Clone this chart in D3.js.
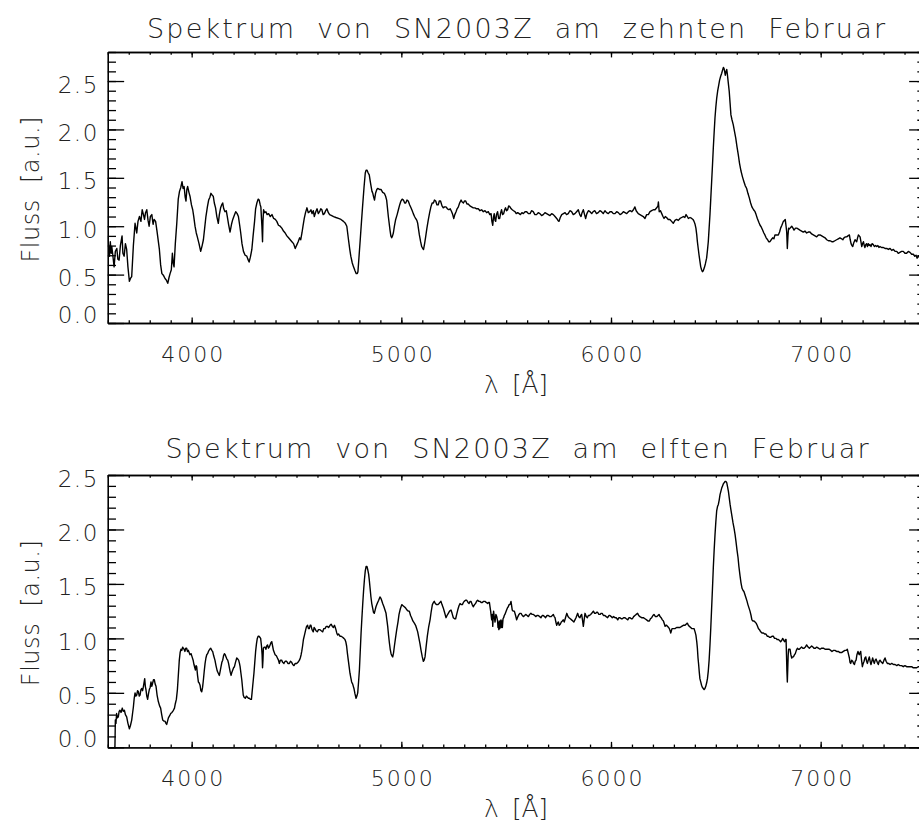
<!DOCTYPE html>
<html>
<head>
<meta charset="utf-8">
<script src="https://cdn.jsdelivr.net/npm/d3@7"></script>
<style>
  body { margin: 0; background: #fff; }
  svg { display: block; }
  text { font-family: "DejaVu Sans", sans-serif; font-weight: 200; fill: #222; }
</style>
</head>
<body>
<div id="chart"></div>
<script>
// spectrum SN2003Z, 10 Feb (wavelength in Angstrom, flux in a.u.)
const spec10 = [[3600,0.89],[3604,0.78],[3608,0.69],[3612,0.84],[3616,0.72],[3619,0.79],[3624,0.70],[3630,0.58],[3636,0.74],[3643,0.77],[3648,0.66],[3654,0.65],[3660,0.80],[3668,0.90],[3672,0.72],[3678,0.69],[3684,0.82],[3690,0.76],[3696,0.58],[3703,0.43],[3708,0.46],[3714,0.48],[3722,0.80],[3730,1.03],[3738,0.93],[3744,1.05],[3751,1.10],[3758,1.05],[3764,1.17],[3770,1.12],[3775,1.07],[3780,1.14],[3786,1.17],[3792,1.06],[3797,1.00],[3803,1.10],[3810,1.12],[3816,1.02],[3821,1.07],[3828,1.05],[3834,0.96],[3846,0.76],[3852,0.60],[3858,0.51],[3866,0.49],[3873,0.46],[3880,0.44],[3886,0.41],[3892,0.47],[3897,0.51],[3903,0.55],[3908,0.72],[3912,0.62],[3916,0.58],[3922,0.82],[3929,1.03],[3936,1.28],[3942,1.36],[3948,1.40],[3954,1.46],[3959,1.39],[3964,1.41],[3969,1.30],[3973,1.26],[3977,1.38],[3981,1.41],[3987,1.35],[3992,1.31],[3999,1.22],[4005,1.17],[4010,1.10],[4016,1.00],[4022,0.93],[4027,0.89],[4035,0.82],[4043,0.74],[4050,0.80],[4056,0.86],[4062,0.98],[4068,1.10],[4075,1.20],[4081,1.27],[4087,1.30],[4092,1.34],[4098,1.32],[4103,1.31],[4108,1.24],[4114,1.19],[4120,1.10],[4127,1.03],[4132,1.12],[4138,1.19],[4143,1.22],[4148,1.24],[4153,1.18],[4159,1.15],[4165,1.16],[4170,1.10],[4176,1.02],[4183,0.94],[4190,1.02],[4196,1.07],[4203,1.11],[4210,1.15],[4217,1.13],[4223,1.10],[4229,1.01],[4234,0.93],[4240,0.82],[4247,0.74],[4255,0.70],[4263,0.69],[4268,0.66],[4274,0.63],[4280,0.68],[4287,0.76],[4293,0.90],[4300,1.05],[4305,1.18],[4311,1.24],[4317,1.28],[4322,1.27],[4327,1.22],[4330,1.20],[4335,1.00],[4338,0.84],[4340,1.05],[4343,1.17],[4348,1.14],[4354,1.15],[4360,1.12],[4367,1.13],[4375,1.10],[4383,1.12],[4391,1.08],[4399,1.07],[4406,1.05],[4414,1.01],[4422,1.00],[4430,0.98],[4438,0.95],[4446,0.93],[4454,0.90],[4462,0.88],[4470,0.86],[4478,0.84],[4486,0.82],[4494,0.77],[4498,0.79],[4502,0.81],[4508,0.84],[4515,0.88],[4520,0.86],[4526,0.93],[4531,1.00],[4537,1.08],[4543,1.14],[4550,1.19],[4556,1.14],[4563,1.15],[4569,1.17],[4574,1.13],[4580,1.16],[4585,1.10],[4592,1.15],[4598,1.18],[4604,1.13],[4610,1.15],[4616,1.18],[4621,1.17],[4627,1.12],[4633,1.13],[4639,1.16],[4645,1.18],[4652,1.14],[4658,1.12],[4668,1.11],[4677,1.10],[4688,1.09],[4700,1.08],[4712,1.07],[4724,1.05],[4733,1.03],[4740,1.00],[4748,0.86],[4754,0.76],[4759,0.69],[4766,0.62],[4772,0.58],[4779,0.54],[4785,0.51],[4790,0.51],[4793,0.53],[4798,0.68],[4804,0.86],[4810,1.05],[4815,1.20],[4822,1.40],[4828,1.55],[4832,1.58],[4836,1.58],[4842,1.55],[4847,1.53],[4852,1.46],[4856,1.41],[4860,1.36],[4864,1.34],[4868,1.30],[4872,1.27],[4877,1.34],[4883,1.38],[4887,1.39],[4896,1.38],[4903,1.38],[4911,1.35],[4919,1.34],[4925,1.31],[4930,1.27],[4938,1.10],[4946,0.96],[4950,0.90],[4954,0.88],[4958,0.90],[4962,0.93],[4967,1.00],[4973,1.07],[4980,1.12],[4986,1.17],[4992,1.22],[4998,1.26],[5004,1.28],[5010,1.27],[5016,1.24],[5021,1.24],[5027,1.27],[5033,1.26],[5040,1.22],[5046,1.19],[5052,1.16],[5057,1.13],[5063,1.10],[5068,1.08],[5074,1.06],[5078,1.03],[5082,0.97],[5086,0.91],[5092,0.84],[5097,0.79],[5102,0.77],[5106,0.76],[5111,0.82],[5116,0.89],[5122,0.98],[5129,1.07],[5135,1.14],[5141,1.20],[5147,1.24],[5153,1.24],[5158,1.27],[5164,1.26],[5170,1.22],[5176,1.22],[5181,1.26],[5187,1.26],[5194,1.21],[5200,1.19],[5206,1.20],[5213,1.20],[5220,1.18],[5227,1.17],[5233,1.18],[5240,1.15],[5245,1.12],[5250,1.08],[5255,1.12],[5261,1.15],[5266,1.18],[5272,1.20],[5278,1.24],[5285,1.27],[5290,1.25],[5296,1.24],[5301,1.26],[5307,1.26],[5313,1.23],[5319,1.23],[5327,1.21],[5335,1.20],[5343,1.19],[5351,1.19],[5359,1.18],[5367,1.18],[5375,1.16],[5383,1.17],[5391,1.15],[5399,1.16],[5407,1.14],[5415,1.15],[5422,1.12],[5428,1.13],[5432,1.05],[5436,1.01],[5440,1.10],[5443,1.13],[5447,1.06],[5450,1.05],[5454,1.12],[5459,1.15],[5464,1.08],[5469,1.08],[5474,1.14],[5478,1.17],[5483,1.12],[5488,1.13],[5493,1.17],[5497,1.19],[5502,1.16],[5507,1.17],[5512,1.21],[5518,1.20],[5524,1.18],[5529,1.17],[5535,1.16],[5542,1.15],[5548,1.13],[5555,1.14],[5562,1.13],[5568,1.12],[5575,1.14],[5582,1.13],[5590,1.15],[5598,1.15],[5606,1.13],[5614,1.13],[5621,1.16],[5629,1.15],[5637,1.12],[5645,1.12],[5653,1.14],[5661,1.13],[5669,1.11],[5677,1.12],[5685,1.14],[5693,1.13],[5701,1.12],[5709,1.11],[5717,1.13],[5725,1.12],[5733,1.10],[5741,1.08],[5747,1.06],[5752,1.05],[5758,1.09],[5765,1.12],[5773,1.13],[5781,1.14],[5788,1.12],[5796,1.13],[5804,1.16],[5812,1.15],[5820,1.12],[5828,1.13],[5836,1.15],[5844,1.17],[5851,1.12],[5857,1.10],[5862,1.14],[5868,1.17],[5874,1.12],[5879,1.08],[5885,1.13],[5892,1.16],[5900,1.15],[5908,1.13],[5915,1.15],[5923,1.16],[5931,1.13],[5939,1.14],[5947,1.16],[5955,1.15],[5963,1.13],[5971,1.16],[5979,1.14],[5987,1.13],[5995,1.15],[6003,1.15],[6011,1.13],[6019,1.13],[6027,1.15],[6035,1.14],[6043,1.12],[6051,1.13],[6059,1.15],[6067,1.14],[6075,1.13],[6083,1.15],[6091,1.16],[6099,1.15],[6107,1.17],[6114,1.20],[6120,1.16],[6130,1.13],[6138,1.12],[6146,1.11],[6154,1.10],[6162,1.08],[6170,1.12],[6178,1.12],[6186,1.15],[6194,1.16],[6202,1.17],[6210,1.17],[6218,1.19],[6224,1.21],[6226,1.25],[6230,1.15],[6236,1.16],[6242,1.13],[6248,1.10],[6253,1.08],[6259,1.10],[6265,1.09],[6273,1.07],[6281,1.07],[6289,1.05],[6297,1.03],[6305,1.06],[6313,1.07],[6321,1.06],[6329,1.08],[6337,1.09],[6345,1.10],[6352,1.09],[6358,1.12],[6364,1.10],[6369,1.08],[6377,1.09],[6385,1.08],[6391,1.07],[6396,1.05],[6401,1.02],[6405,0.98],[6409,0.91],[6412,0.84],[6416,0.77],[6420,0.70],[6424,0.64],[6428,0.58],[6432,0.55],[6436,0.53],[6440,0.54],[6445,0.57],[6450,0.61],[6456,0.67],[6460,0.75],[6464,0.84],[6468,0.98],[6472,1.12],[6476,1.29],[6480,1.46],[6484,1.63],[6488,1.81],[6492,1.97],[6496,2.12],[6500,2.23],[6504,2.32],[6509,2.40],[6514,2.46],[6518,2.51],[6523,2.55],[6528,2.58],[6533,2.62],[6536,2.64],[6539,2.63],[6542,2.60],[6545,2.56],[6549,2.60],[6552,2.62],[6555,2.57],[6558,2.51],[6561,2.45],[6564,2.39],[6568,2.27],[6572,2.15],[6577,2.10],[6583,2.05],[6589,1.98],[6595,1.91],[6601,1.82],[6607,1.74],[6613,1.65],[6620,1.57],[6627,1.51],[6634,1.46],[6640,1.42],[6647,1.39],[6653,1.34],[6660,1.29],[6666,1.24],[6672,1.20],[6680,1.17],[6687,1.15],[6692,1.12],[6698,1.08],[6705,1.04],[6711,1.01],[6717,0.99],[6723,0.96],[6729,0.93],[6734,0.91],[6740,0.88],[6747,0.86],[6752,0.84],[6758,0.84],[6764,0.86],[6771,0.88],[6777,0.87],[6782,0.91],[6790,0.91],[6798,0.91],[6804,0.94],[6809,0.98],[6815,1.01],[6822,1.05],[6827,1.06],[6831,1.07],[6835,1.00],[6838,0.94],[6841,0.77],[6844,0.90],[6847,0.98],[6850,0.97],[6854,0.98],[6858,0.99],[6862,1.00],[6868,0.98],[6873,0.96],[6880,0.98],[6886,0.98],[6894,0.97],[6901,0.96],[6909,0.95],[6917,0.94],[6925,0.95],[6933,0.93],[6941,0.94],[6949,0.94],[6957,0.92],[6965,0.91],[6973,0.90],[6981,0.89],[6989,0.91],[6997,0.91],[7005,0.90],[7013,0.89],[7021,0.88],[7029,0.86],[7037,0.85],[7045,0.85],[7053,0.84],[7060,0.84],[7068,0.85],[7076,0.86],[7084,0.87],[7092,0.88],[7100,0.87],[7106,0.86],[7111,0.88],[7118,0.89],[7124,0.89],[7130,0.90],[7137,0.91],[7141,0.86],[7145,0.82],[7149,0.80],[7153,0.79],[7158,0.83],[7164,0.86],[7168,0.85],[7172,0.84],[7176,0.88],[7180,0.91],[7184,0.90],[7188,0.89],[7192,0.84],[7196,0.79],[7200,0.82],[7204,0.84],[7208,0.80],[7211,0.78],[7215,0.81],[7219,0.82],[7223,0.79],[7227,0.82],[7231,0.80],[7235,0.81],[7240,0.79],[7245,0.82],[7251,0.81],[7256,0.79],[7262,0.80],[7267,0.79],[7273,0.80],[7278,0.78],[7283,0.79],[7290,0.78],[7299,0.78],[7307,0.77],[7315,0.77],[7323,0.76],[7331,0.77],[7339,0.75],[7347,0.76],[7355,0.74],[7363,0.74],[7370,0.72],[7378,0.73],[7386,0.74],[7394,0.74],[7402,0.72],[7410,0.72],[7418,0.74],[7426,0.73],[7434,0.71],[7442,0.71],[7449,0.69],[7455,0.70],[7460,0.67],[7466,0.69],[7472,0.68],[7480,0.67],[7490,0.68],[7500,0.66]];

// spectrum SN2003Z, 11 Feb
const spec11 = [[3630,0.0],[3634,0.0],[3636,0.25],[3639,0.22],[3642,0.31],[3646,0.27],[3650,0.28],[3654,0.33],[3658,0.34],[3663,0.32],[3669,0.36],[3674,0.33],[3679,0.34],[3684,0.30],[3690,0.28],[3696,0.22],[3703,0.17],[3708,0.20],[3714,0.25],[3718,0.31],[3722,0.37],[3726,0.45],[3730,0.50],[3734,0.47],[3738,0.48],[3742,0.52],[3746,0.51],[3750,0.47],[3754,0.48],[3758,0.53],[3762,0.54],[3766,0.52],[3770,0.56],[3776,0.63],[3779,0.56],[3782,0.53],[3786,0.47],[3790,0.44],[3794,0.49],[3798,0.53],[3802,0.55],[3806,0.60],[3810,0.56],[3814,0.59],[3818,0.62],[3822,0.62],[3826,0.58],[3830,0.56],[3835,0.48],[3841,0.42],[3847,0.38],[3852,0.36],[3857,0.30],[3862,0.25],[3868,0.24],[3873,0.24],[3877,0.22],[3881,0.21],[3885,0.24],[3889,0.27],[3895,0.29],[3900,0.31],[3906,0.32],[3913,0.34],[3918,0.36],[3922,0.40],[3927,0.44],[3932,0.53],[3936,0.65],[3941,0.80],[3945,0.87],[3949,0.90],[3953,0.89],[3957,0.92],[3960,0.91],[3964,0.90],[3968,0.88],[3972,0.91],[3976,0.91],[3980,0.88],[3984,0.89],[3988,0.87],[3992,0.85],[3997,0.86],[4002,0.83],[4007,0.80],[4011,0.76],[4015,0.73],[4018,0.71],[4021,0.75],[4024,0.74],[4028,0.66],[4032,0.60],[4036,0.59],[4040,0.57],[4044,0.52],[4048,0.51],[4052,0.55],[4056,0.62],[4060,0.70],[4064,0.77],[4068,0.82],[4072,0.85],[4076,0.86],[4080,0.88],[4086,0.90],[4091,0.91],[4096,0.89],[4100,0.88],[4105,0.84],[4111,0.80],[4116,0.75],[4122,0.70],[4127,0.68],[4132,0.66],[4136,0.70],[4140,0.74],[4144,0.78],[4148,0.80],[4152,0.84],[4156,0.86],[4160,0.85],[4164,0.83],[4168,0.81],[4172,0.80],[4176,0.77],[4180,0.73],[4184,0.69],[4188,0.66],[4192,0.69],[4196,0.71],[4200,0.73],[4204,0.74],[4209,0.78],[4215,0.82],[4220,0.81],[4224,0.80],[4228,0.77],[4231,0.74],[4235,0.68],[4239,0.62],[4243,0.54],[4246,0.48],[4250,0.46],[4256,0.45],[4261,0.47],[4266,0.46],[4271,0.45],[4275,0.45],[4280,0.44],[4285,0.44],[4288,0.50],[4291,0.56],[4294,0.62],[4297,0.68],[4301,0.78],[4305,0.88],[4309,0.95],[4313,1.00],[4317,1.02],[4321,1.02],[4325,1.01],[4329,1.00],[4333,0.93],[4336,0.85],[4338,0.73],[4340,0.80],[4342,0.91],[4346,0.92],[4350,0.92],[4354,0.90],[4358,0.93],[4362,0.94],[4366,0.91],[4370,0.92],[4374,0.94],[4378,0.96],[4382,0.97],[4386,0.93],[4390,0.89],[4394,0.87],[4398,0.85],[4404,0.84],[4409,0.82],[4414,0.80],[4418,0.77],[4423,0.80],[4429,0.80],[4434,0.78],[4440,0.77],[4446,0.79],[4453,0.79],[4459,0.77],[4466,0.77],[4471,0.79],[4477,0.78],[4482,0.76],[4488,0.75],[4494,0.77],[4501,0.77],[4507,0.78],[4514,0.80],[4518,0.82],[4522,0.85],[4525,0.88],[4529,0.93],[4533,0.99],[4538,1.03],[4544,1.08],[4548,1.11],[4553,1.12],[4557,1.09],[4561,1.09],[4565,1.12],[4569,1.12],[4574,1.08],[4580,1.06],[4584,1.10],[4588,1.09],[4593,1.07],[4599,1.06],[4605,1.08],[4612,1.08],[4618,1.07],[4625,1.06],[4630,1.09],[4636,1.09],[4642,1.11],[4647,1.11],[4653,1.10],[4660,1.12],[4665,1.13],[4671,1.11],[4676,1.10],[4681,1.12],[4685,1.10],[4688,1.08],[4692,1.05],[4696,1.03],[4701,1.04],[4707,1.02],[4713,1.02],[4720,1.01],[4726,1.00],[4731,0.99],[4735,0.97],[4739,0.93],[4743,0.86],[4747,0.80],[4751,0.74],[4755,0.68],[4759,0.64],[4763,0.60],[4768,0.58],[4774,0.54],[4779,0.49],[4784,0.45],[4788,0.47],[4792,0.50],[4796,0.60],[4800,0.71],[4804,0.88],[4808,1.05],[4812,1.19],[4816,1.32],[4820,1.44],[4824,1.54],[4828,1.62],[4832,1.66],[4836,1.66],[4840,1.63],[4844,1.59],[4847,1.54],[4851,1.46],[4855,1.38],[4859,1.32],[4863,1.28],[4867,1.24],[4871,1.23],[4875,1.26],[4879,1.29],[4883,1.31],[4887,1.33],[4892,1.35],[4898,1.38],[4902,1.37],[4906,1.35],[4911,1.32],[4917,1.29],[4922,1.26],[4927,1.23],[4931,1.17],[4935,1.11],[4939,1.03],[4943,0.96],[4947,0.90],[4951,0.86],[4955,0.84],[4959,0.83],[4963,0.87],[4967,0.93],[4972,1.00],[4978,1.08],[4984,1.15],[4989,1.22],[4995,1.27],[5002,1.31],[5008,1.30],[5014,1.29],[5020,1.28],[5027,1.26],[5033,1.25],[5038,1.25],[5044,1.21],[5049,1.19],[5055,1.16],[5062,1.14],[5068,1.12],[5073,1.09],[5078,1.06],[5084,1.00],[5089,0.95],[5094,0.89],[5100,0.83],[5105,0.79],[5109,0.80],[5113,0.83],[5118,0.92],[5124,1.02],[5130,1.10],[5137,1.17],[5142,1.24],[5148,1.31],[5153,1.33],[5157,1.34],[5162,1.32],[5168,1.31],[5174,1.31],[5180,1.32],[5184,1.33],[5189,1.34],[5194,1.31],[5200,1.28],[5206,1.24],[5213,1.19],[5218,1.21],[5224,1.23],[5230,1.25],[5237,1.26],[5242,1.23],[5248,1.19],[5254,1.18],[5259,1.18],[5264,1.22],[5269,1.26],[5275,1.30],[5280,1.32],[5286,1.31],[5291,1.31],[5296,1.33],[5300,1.34],[5306,1.35],[5312,1.35],[5318,1.33],[5323,1.32],[5328,1.34],[5332,1.34],[5338,1.31],[5343,1.29],[5349,1.31],[5354,1.32],[5359,1.34],[5364,1.35],[5370,1.34],[5375,1.34],[5381,1.33],[5386,1.33],[5392,1.34],[5399,1.34],[5405,1.33],[5412,1.32],[5416,1.33],[5420,1.33],[5423,1.29],[5426,1.25],[5429,1.20],[5431,1.17],[5434,1.22],[5436,1.11],[5438,1.19],[5440,1.25],[5443,1.20],[5447,1.15],[5451,1.22],[5455,1.20],[5459,1.16],[5461,1.10],[5463,1.14],[5465,1.08],[5467,1.16],[5470,1.09],[5472,1.15],[5475,1.17],[5477,1.10],[5480,1.16],[5482,1.10],[5485,1.18],[5488,1.19],[5491,1.21],[5494,1.22],[5498,1.24],[5502,1.26],[5506,1.28],[5510,1.29],[5514,1.31],[5518,1.31],[5523,1.34],[5526,1.30],[5529,1.26],[5534,1.25],[5539,1.25],[5545,1.21],[5550,1.17],[5556,1.20],[5561,1.22],[5566,1.23],[5571,1.23],[5577,1.21],[5582,1.20],[5588,1.21],[5593,1.22],[5600,1.21],[5606,1.20],[5612,1.22],[5618,1.23],[5624,1.22],[5630,1.22],[5636,1.21],[5641,1.20],[5647,1.21],[5653,1.21],[5660,1.20],[5666,1.19],[5672,1.21],[5677,1.21],[5683,1.20],[5688,1.19],[5695,1.21],[5701,1.21],[5708,1.20],[5714,1.20],[5720,1.21],[5725,1.22],[5729,1.20],[5733,1.19],[5737,1.15],[5741,1.12],[5745,1.14],[5749,1.15],[5753,1.12],[5758,1.13],[5763,1.15],[5768,1.16],[5772,1.17],[5777,1.15],[5783,1.19],[5789,1.23],[5795,1.20],[5800,1.19],[5806,1.18],[5812,1.17],[5818,1.16],[5823,1.15],[5828,1.17],[5833,1.19],[5837,1.21],[5841,1.23],[5846,1.20],[5852,1.19],[5856,1.21],[5860,1.22],[5864,1.17],[5868,1.11],[5872,1.17],[5876,1.23],[5882,1.20],[5887,1.19],[5892,1.21],[5897,1.21],[5903,1.22],[5908,1.23],[5912,1.24],[5916,1.25],[5922,1.23],[5927,1.23],[5932,1.24],[5936,1.24],[5942,1.22],[5948,1.22],[5953,1.23],[5958,1.23],[5964,1.21],[5971,1.21],[5977,1.20],[5984,1.19],[5990,1.21],[5995,1.21],[6001,1.20],[6006,1.19],[6012,1.20],[6019,1.19],[6025,1.19],[6032,1.17],[6038,1.19],[6043,1.19],[6049,1.18],[6054,1.18],[6060,1.19],[6067,1.19],[6073,1.18],[6080,1.17],[6086,1.19],[6091,1.19],[6097,1.18],[6102,1.18],[6108,1.20],[6114,1.21],[6120,1.22],[6127,1.23],[6132,1.21],[6138,1.20],[6146,1.19],[6154,1.19],[6162,1.18],[6170,1.17],[6176,1.16],[6183,1.16],[6188,1.18],[6194,1.19],[6200,1.21],[6205,1.22],[6212,1.20],[6218,1.20],[6224,1.21],[6229,1.22],[6234,1.20],[6239,1.19],[6245,1.17],[6250,1.16],[6255,1.13],[6258,1.11],[6262,1.12],[6265,1.12],[6270,1.11],[6275,1.10],[6278,1.09],[6282,1.07],[6285,1.05],[6288,1.07],[6291,1.09],[6297,1.09],[6305,1.09],[6313,1.10],[6321,1.10],[6329,1.10],[6337,1.11],[6345,1.12],[6353,1.12],[6358,1.13],[6364,1.14],[6369,1.12],[6374,1.11],[6380,1.10],[6385,1.09],[6391,1.09],[6396,1.09],[6401,1.06],[6405,1.03],[6409,0.97],[6412,0.91],[6415,0.82],[6418,0.76],[6421,0.69],[6424,0.63],[6428,0.60],[6432,0.57],[6436,0.55],[6440,0.54],[6444,0.53],[6448,0.54],[6452,0.56],[6456,0.59],[6460,0.63],[6464,0.70],[6468,0.80],[6472,0.94],[6476,1.10],[6480,1.28],[6484,1.46],[6488,1.65],[6492,1.81],[6496,1.95],[6500,2.07],[6504,2.17],[6508,2.21],[6512,2.23],[6516,2.27],[6520,2.32],[6524,2.35],[6528,2.38],[6532,2.40],[6536,2.42],[6540,2.43],[6544,2.44],[6548,2.44],[6552,2.43],[6556,2.39],[6560,2.35],[6564,2.29],[6568,2.23],[6572,2.18],[6577,2.12],[6582,2.06],[6587,2.01],[6592,1.95],[6596,1.89],[6601,1.81],[6606,1.74],[6610,1.66],[6615,1.58],[6620,1.51],[6625,1.46],[6630,1.44],[6634,1.43],[6639,1.40],[6644,1.37],[6649,1.34],[6653,1.31],[6658,1.28],[6663,1.25],[6668,1.21],[6672,1.17],[6677,1.16],[6682,1.16],[6687,1.15],[6692,1.14],[6697,1.12],[6703,1.09],[6708,1.08],[6714,1.06],[6720,1.05],[6727,1.05],[6733,1.04],[6739,1.04],[6745,1.02],[6750,1.02],[6756,1.01],[6762,1.01],[6768,1.02],[6774,1.02],[6780,1.00],[6787,1.00],[6792,0.99],[6798,0.99],[6804,0.98],[6809,0.97],[6814,0.98],[6819,1.00],[6824,0.98],[6828,0.97],[6832,0.99],[6835,0.99],[6837,0.85],[6839,0.70],[6841,0.60],[6843,0.72],[6845,0.84],[6847,0.90],[6850,0.90],[6854,0.90],[6858,0.85],[6862,0.82],[6866,0.83],[6870,0.83],[6875,0.85],[6879,0.86],[6884,0.89],[6889,0.91],[6894,0.90],[6898,0.90],[6903,0.91],[6909,0.92],[6915,0.91],[6921,0.91],[6927,0.92],[6933,0.94],[6940,0.92],[6946,0.91],[6952,0.92],[6957,0.93],[6963,0.92],[6968,0.91],[6975,0.91],[6981,0.92],[6989,0.91],[6997,0.90],[7005,0.91],[7013,0.91],[7021,0.90],[7029,0.90],[7035,0.90],[7041,0.90],[7048,0.89],[7054,0.88],[7061,0.89],[7068,0.89],[7076,0.88],[7084,0.88],[7092,0.87],[7100,0.87],[7108,0.88],[7116,0.89],[7122,0.89],[7127,0.90],[7132,0.86],[7137,0.82],[7140,0.78],[7143,0.77],[7148,0.80],[7153,0.79],[7157,0.77],[7161,0.76],[7165,0.79],[7169,0.80],[7173,0.85],[7178,0.88],[7181,0.86],[7184,0.85],[7188,0.87],[7191,0.88],[7195,0.80],[7199,0.74],[7203,0.77],[7207,0.79],[7211,0.82],[7215,0.83],[7219,0.79],[7223,0.77],[7227,0.80],[7232,0.83],[7236,0.79],[7240,0.76],[7244,0.79],[7248,0.82],[7252,0.79],[7256,0.77],[7260,0.80],[7264,0.81],[7270,0.78],[7275,0.76],[7279,0.79],[7283,0.80],[7290,0.78],[7296,0.77],[7302,0.80],[7307,0.82],[7312,0.79],[7318,0.77],[7324,0.77],[7331,0.76],[7339,0.77],[7347,0.76],[7355,0.76],[7363,0.75],[7370,0.76],[7378,0.75],[7386,0.75],[7394,0.74],[7402,0.75],[7410,0.74],[7418,0.74],[7426,0.74],[7434,0.74],[7442,0.73],[7450,0.73],[7458,0.73],[7465,0.74],[7471,0.74],[7480,0.73],[7490,0.73],[7500,0.72]];

const xDomain = [3600, 7500];
const xMajorTicks = [4000, 5000, 6000, 7000];
const yMajorTicks = [0, 0.5, 1.0, 1.5, 2.0, 2.5];
const titles = [
  'Spektrum von SN2003Z am zehnten Februar',
  'Spektrum von SN2003Z am elften Februar'
];
const yMaxes = [2.8, 2.5];
const xLabel = 'λ [Å]';
const yLabel = 'Fluss [a.u.]';

const width = 919;
const height = 829;

const svg = d3.select('#chart')
  .append('svg')
  .attr('width', width)
  .attr('height', height);

const x = d3.scaleLinear().domain(xDomain).range([107.8, 925.5]);
const xMinor = d3.range(3600, 7501, 100);

const panels = [
  { data: spec10, title: titles[0], yMax: yMaxes[0], top: 52, bottom: 323, titleX: 516, titleY: 38, titleW: 738 },
  { data: spec11, title: titles[1], yMax: yMaxes[1], top: 475, bottom: 747.3, titleX: 517, titleY: 458, titleW: 703 }
];

panels.forEach((p, i) => {
  const y = d3.scaleLinear().domain([0, p.yMax]).range([p.bottom, p.top]);
  const yMinor = d3.range(0, p.yMax + 0.001, 0.1);
  const plotH = p.bottom - p.top;
  const plotW = x.range()[1] - x.range()[0];
  // IDL style tick lengths: fraction of the plot size
  const xTick = plotH * 0.02;
  const yTick = plotW * 0.02;

  const g = svg.append('g').attr('class', 'panel');

  // clip for the spectrum
  svg.append('clipPath').attr('id', 'clip' + i)
    .append('rect')
    .attr('x', x.range()[0]).attr('y', p.top)
    .attr('width', plotW).attr('height', plotH);

  // Bottom axis (major with labels)
  const bottomAx = g.append('g')
    .attr('transform', `translate(0,${p.bottom})`)
    .call(d3.axisBottom(x).tickValues(xMajorTicks).tickSize(-xTick).tickSizeOuter(0)
      .tickPadding(0).tickFormat(d3.format('d')));
  bottomAx.selectAll('text')
    .attr('dy', null).attr('y', 39).attr('dx', 1)
    .style('font-size', '22px').style('letter-spacing', '2px');

  g.append('g')
    .attr('transform', `translate(0,${p.bottom})`)
    .call(d3.axisBottom(x).tickValues(xMinor).tickSize(-xTick / 2).tickSizeOuter(0).tickFormat(''));

  // Top axis
  g.append('g')
    .attr('transform', `translate(0,${p.top})`)
    .call(d3.axisTop(x).tickValues(xMajorTicks).tickSize(-xTick).tickSizeOuter(0).tickFormat(''));
  g.append('g')
    .attr('transform', `translate(0,${p.top})`)
    .call(d3.axisTop(x).tickValues(xMinor).tickSize(-xTick / 2).tickSizeOuter(0).tickFormat(''));

  // Left axis
  const leftAx = g.append('g')
    .attr('transform', `translate(${x.range()[0]},0)`)
    .call(d3.axisLeft(y).tickValues(yMajorTicks).tickSize(-yTick).tickSizeOuter(0)
      .tickPadding(9).tickFormat(d3.format('.1f')));
  leftAx.selectAll('text')
    .attr('dy', null)
    .attr('y', d => d === 0 ? -1 : 11)
    .style('font-size', '23px').style('letter-spacing', '1.5px');

  g.append('g')
    .attr('transform', `translate(${x.range()[0]},0)`)
    .call(d3.axisLeft(y).tickValues(yMinor).tickSize(-yTick / 2).tickSizeOuter(0).tickFormat(''));

  // Right axis (mostly outside the picture, only the ticks show)
  g.append('g')
    .attr('transform', `translate(${x.range()[1]},0)`)
    .call(d3.axisRight(y).tickValues(yMajorTicks).tickSize(-yTick).tickSizeOuter(0).tickFormat(''));
  g.append('g')
    .attr('transform', `translate(${x.range()[1]},0)`)
    .call(d3.axisRight(y).tickValues(yMinor).tickSize(-yTick / 2).tickSizeOuter(0).tickFormat(''));

  g.selectAll('.domain, .tick line')
    .attr('stroke', '#000')
    .attr('stroke-width', 1.3);

  // Spectrum
  const line = d3.line()
    .x(d => x(d[0]))
    .y(d => y(d[1]));

  g.append('path')
    .datum(p.data)
    .attr('clip-path', `url(#clip${i})`)
    .attr('fill', 'none')
    .attr('stroke', '#000')
    .attr('stroke-width', 1.4)
    .attr('stroke-linejoin', 'round')
    .attr('d', line);

  // Title
  g.append('text')
    .attr('x', p.titleX)
    .attr('y', p.titleY)
    .attr('text-anchor', 'middle')
    .attr('textLength', p.titleW)
    .attr('lengthAdjust', 'spacing')
    .style('font-size', '27px')
    .style('word-spacing', '10px')
    .text(p.title);

  // Axis titles
  g.append('text')
    .attr('x', 516)
    .attr('y', p.bottom + 70)
    .attr('text-anchor', 'middle')
    .attr('textLength', 64)
    .attr('lengthAdjust', 'spacing')
    .style('font-size', '25px')
    .style('word-spacing', '6px')
    .text(xLabel);

  g.append('text')
    .attr('transform', `translate(39,${(p.top + p.bottom) / 2 + 2}) rotate(-90)`)
    .attr('text-anchor', 'middle')
    .attr('textLength', 146)
    .attr('lengthAdjust', 'spacing')
    .style('font-size', '24px')
    .style('word-spacing', '8px')
    .text(yLabel);
});
</script>
</body>
</html>
